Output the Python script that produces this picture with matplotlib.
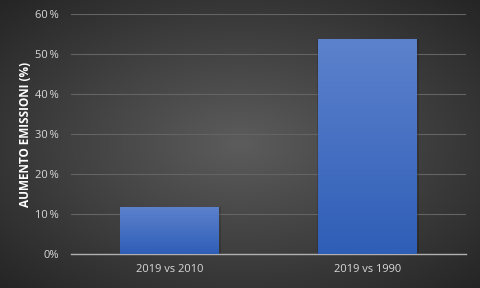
import numpy as np
import matplotlib.pyplot as plt
from matplotlib.colors import LinearSegmentedColormap

categories = ["2019 vs 2010", "2019 vs 1990"]
values = [11.8, 53.8]
yticks = [0, 10, 20, 30, 40, 50, 60]
ytick_labels = ["0%", "10\u2009%", "20\u2009%", "30\u2009%", "40\u2009%", "50\u2009%", "60\u2009%"]
ylabel = "AUMENTO EMISSIONI (%)"

plt.rcParams['font.family'] = ['Open Sans', 'DejaVu Sans']
TXT = '#d9d9d9'

fig = plt.figure(figsize=(4.8, 2.88), dpi=100)

# radial background
bg = fig.add_axes([0, 0, 1, 1], zorder=-10)
xx, yy = np.meshgrid(np.linspace(-1, 1, 480), np.linspace(-1, 1, 288))
r = np.sqrt(xx**2 + yy**2) / np.sqrt(2)
bg_cmap = LinearSegmentedColormap.from_list('bg', ['#5c5c5c', '#252525'])
bg.imshow(r, cmap=bg_cmap, aspect='auto', extent=[0, 1, 0, 1], vmin=0, vmax=1)
bg.axis('off')

ax = fig.add_axes([71/480, 1 - 254/288, 395/480, 240/288])
ax.patch.set_alpha(0)
x = np.arange(len(categories))
bars = ax.bar(x, values, width=0.5, color='none', zorder=3)

bar_cmap = LinearSegmentedColormap.from_list('bar', ['#2f5eb7', '#5d82cd'])
grad = np.linspace(0, 1, 256).reshape(-1, 1)
for b in bars:
    x0, y0, w, h = b.get_x(), b.get_y(), b.get_width(), b.get_height()
    # soft shadow
    ax.bar(x0 + w/2 + 0.004, h, width=w + 0.012, color='black', alpha=0.15, zorder=2)
    im = ax.imshow(grad, cmap=bar_cmap, origin='lower', aspect='auto',
                   extent=[x0, x0 + w, y0, y0 + h], zorder=3)
    im.set_clip_path(b)

ax.set_xlim(-0.5, 1.5)
ax.set_ylim(0, 60)
ax.set_yticks(yticks)
ax.set_yticklabels(ytick_labels)
ax.set_xticks(x)
ax.set_xticklabels(categories)
ax.grid(axis='y', color='#646464', linewidth=0.8, zorder=0)
ax.set_axisbelow(True)
for s in ['top', 'right', 'left']:
    ax.spines[s].set_visible(False)
ax.spines['bottom'].set_color('#b0b0b0')
ax.spines['bottom'].set_linewidth(1.0)
ax.tick_params(axis='both', length=0, colors=TXT, labelsize=8)
ax.tick_params(axis='y', pad=9)
ax.tick_params(axis='x', pad=7)
ax.set_ylabel(ylabel, color='white', fontsize=8.5, fontweight='bold')
ax.yaxis.set_label_coords(-0.098, 0.5)

fig.savefig('out.png', dpi=100)
